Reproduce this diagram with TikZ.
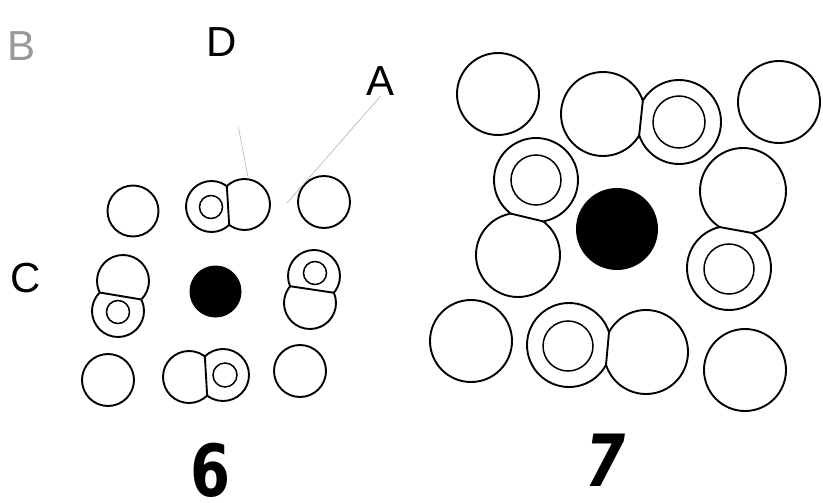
\documentclass[tikz,border=0pt]{standalone}
\usepackage{fontspec}
\usetikzlibrary{calc,intersections}
\newfontfamily\labelfont{Liberation Sans}
\newfontfamily\numfont{DejaVu Sans}[FakeStretch=0.8]

\tikzset{
  cell/.style={line width=1.9pt},
  nucleus/.style={line width=1.5pt},
  yolk/.style={fill=black},
  leader/.style={line width=0.6pt,black!30},
  letter/.style={font=\labelfont\fontsize{42}{42}\selectfont,inner sep=0pt},
  figno/.style={font=\numfont\bfseries\fontsize{72}{72}\selectfont,inner sep=0pt,anchor=base},
  figslant/.style={font=\numfont\bfseries\itshape\fontsize{72}{72}\selectfont,inner sep=0pt,anchor=base},
}

% two cells pressed together: #1 name, #2/#3 first centre/radius, #4/#5 second
\newcommand{\cellpair}[5]{%
  \coordinate (#1a) at #2;
  \coordinate (#1b) at #4;
  \path[name path=#1pa] (#1a) circle (#3);
  \path[name path=#1pb] (#1b) circle (#5);
  \path[name intersections={of=#1pa and #1pb,by={#1i,#1j}}];
  \coordinate (#1m) at ($(#1i)!0.5!(#1j)$);
  \coordinate (#1p) at ($(#1i)!-3!(#1j)$);
  \coordinate (#1q) at ($(#1i)!4!(#1j)$);
  \begin{scope}
    \clip (#1p) -- (#1q) -- ($(#1q)+4*(#1a)-4*(#1m)$) -- ($(#1p)+4*(#1a)-4*(#1m)$) -- cycle;
    \draw[cell] (#1a) circle (#3);
  \end{scope}
  \begin{scope}
    \clip (#1p) -- (#1q) -- ($(#1q)+4*(#1b)-4*(#1m)$) -- ($(#1p)+4*(#1b)-4*(#1m)$) -- cycle;
    \draw[cell] (#1b) circle (#5);
  \end{scope}
  \draw[cell] (#1i) -- (#1j);
}

\begin{document}
\begin{tikzpicture}[x=1pt,y=-1pt]
  \useasboundingbox (0,0) rectangle (823,503);

  % figure 6
  \draw[cell] (133,211) circle (25.5pt);
  \draw[cell] (324,202) circle (26pt);
  \draw[cell] (108,380) circle (26pt);
  \draw[cell] (300,371) circle (26pt);
  \fill[yolk] (215.5,291.5) circle (26pt);
  \cellpair{t}{(211.5,206.5)}{25.5pt}{(244.5,204.5)}{25.5pt}
  \draw[nucleus] (211,207) circle (11.5pt);
  \cellpair{l}{(123,281)}{26pt}{(118,311)}{26pt}
  \draw[nucleus] (118,312) circle (11.5pt);
  \cellpair{r}{(314,276)}{26pt}{(310,303)}{26pt}
  \draw[nucleus] (315,273) circle (11.5pt);
  \cellpair{b}{(189,377)}{26pt}{(223,375)}{26pt}
  \draw[nucleus] (225,375) circle (12pt);

  % figure 7
  \draw[cell] (498,94) circle (41pt);
  \draw[cell] (779,102) circle (41pt);
  \draw[cell] (471,341) circle (41pt);
  \draw[cell] (745,370) circle (41pt);
  \fill[yolk] (617,229) circle (41pt);
  \cellpair{u}{(603,114)}{42pt}{(679,122)}{42pt}
  \draw[nucleus] (679,122) circle (26pt);
  \cellpair{v}{(536,180)}{42pt}{(518,255)}{42pt}
  \draw[nucleus] (536,180) circle (25pt);
  \cellpair{w}{(743,191)}{43pt}{(729,268)}{42pt}
  \draw[nucleus] (729,269) circle (25pt);
  \cellpair{z}{(569,345)}{42pt}{(646,352)}{42pt}
  \draw[nucleus] (568,346) circle (25pt);

  % labels
  \node[letter,text=black!40] (B) at (21.5,46) {B};
  \node[letter] (D) at (222,42) {D};
  \node[letter] (A) at (381,81) {A};
  \node[letter] (C) at (26,278) {C};
  \coordinate (dTip) at (248,177);
  \coordinate (aTip) at (287,203);
  \draw[leader,shorten <=72pt] (D) -- (dTip);
  \draw[leader] (A.south) -- (aTip);

  \node[figno] (six) at (211,496) {6};
  \node[figslant] (seven) at (606,486) {7};
\end{tikzpicture}
\end{document}
